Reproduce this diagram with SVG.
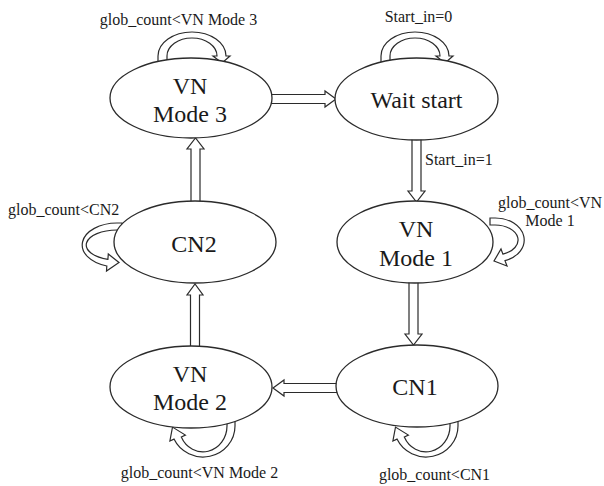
<svg xmlns="http://www.w3.org/2000/svg" width="604" height="486" viewBox="0 0 604 486">
  <style>
    .state { fill: #ffffff; stroke: #2b2b2b; stroke-width: 1.3; }
    .block { fill: #ffffff; stroke: #2b2b2b; stroke-width: 1.2; stroke-linejoin: miter; }
    .name { font-family: "Liberation Serif", "Times New Roman", serif; font-size: 24px; fill: #1a1a1a; text-anchor: middle; }
    .cond { font-family: "Liberation Serif", "Times New Roman", serif; font-size: 16px; fill: #1a1a1a; }
    .mid { text-anchor: middle; }
  </style>
  <rect width="604" height="486" fill="#ffffff"/>

  <!-- transitions: hollow block arrows and self-loops -->
  <g id="connectors">
    <!-- VN Mode 3 -> Wait start -->
    <path class="block" d="M266,94.5 L325,94.5 L325,91 L336,99 L325,107 L325,103.5 L266,103.5 Z"/>
    <!-- Wait start -> VN Mode 1 -->
    <path class="block" d="M412,134 L412,191 L408,191 L416.5,202 L425,191 L421,191 L421,134 Z"/>
    <!-- VN Mode 1 -> CN1 -->
    <path class="block" d="M409,278 L409,334 L405,334 L413.5,345 L422,334 L418,334 L418,278 Z"/>
    <!-- CN1 -> VN Mode 2 -->
    <path class="block" d="M342,383.5 L284,383.5 L284,380 L273,388 L284,396 L284,392.5 L342,392.5 Z"/>
    <!-- VN Mode 2 -> CN2 -->
    <path class="block" d="M190.5,352 L190.5,295 L187,295 L195,284 L203,295 L199.5,295 L199.5,352 Z"/>
    <!-- CN2 -> VN Mode 3 -->
    <path class="block" d="M191,208 L191,149 L187,149 L195.5,138 L204,149 L200,149 L200,208 Z"/>

    <!-- self-loop on VN Mode 3 -->
    <path class="block" d="M158,64 L158,56 A34,24 0 0 1 226,56 L230,56 L222,63 L213,56 L217,56 A25,18 0 0 0 167,56 L167,64 Z"/>
    <!-- self-loop on Wait start -->
    <path class="block" d="M381,64 L381,56 A34,24 0 0 1 449,56 L453,56 L445,63 L436,56 L440,56 A25,18 0 0 0 390,56 L390,64 Z"/>
    <!-- self-loop on VN Mode 1 -->
    <path class="block" d="M490,218 L495,218 A29,22 0 0 1 505,260.7 L507,266 L494,261 L501,249 L502.9,254.1 A23,15 0 0 0 495,225 L490,225 Z"/>
    <!-- self-loop on CN2 -->
    <path class="block" d="M122,223 L117,223 A35,22 0 0 0 106.8,266 L106.5,271 L119,262.5 L108.3,254 L107.9,259.3 A31,15 0 0 1 117,230 L122,230 Z"/>
    <!-- self-loop on VN Mode 2 -->
    <path class="block" d="M235,420 L235,426 A32,31 0 0 1 174,439.1 L169.9,441 L172.5,427.1 L185.4,435.1 L181.3,437 A24,26 0 0 0 227,426 L227,420 Z"/>
    <!-- self-loop on CN1 -->
    <path class="block" d="M458,420 L458,426 A32,31 0 0 1 397,439.1 L392.9,441 L395.5,427.1 L408.4,435.1 L404.3,437 A24,26 0 0 0 450,426 L450,420 Z"/>
  </g>

  <g id="vn-mode-3">
    <ellipse class="state" cx="191" cy="98" rx="81" ry="40"/>
    <text class="name" x="190" y="94">VN</text>
    <text class="name" x="190" y="122">Mode 3</text>
  </g>
  <g id="wait-start">
    <ellipse class="state" cx="416.5" cy="99" rx="81.5" ry="41"/>
    <text class="name" x="416.5" y="108">Wait start</text>
  </g>
  <g id="vn-mode-1">
    <ellipse class="state" cx="415" cy="242" rx="78" ry="41"/>
    <text class="name" x="416" y="237">VN</text>
    <text class="name" x="416" y="266">Mode 1</text>
  </g>
  <g id="cn2">
    <ellipse class="state" cx="195" cy="242" rx="81" ry="41"/>
    <text class="name" x="194" y="252">CN2</text>
  </g>
  <g id="vn-mode-2">
    <ellipse class="state" cx="191" cy="387" rx="81" ry="41"/>
    <text class="name" x="190" y="382">VN</text>
    <text class="name" x="190" y="410">Mode 2</text>
  </g>
  <g id="cn1">
    <ellipse class="state" cx="417" cy="386" rx="81" ry="41"/>
    <text class="name" x="415" y="395">CN1</text>
  </g>

  <!-- transition conditions -->
  <g id="labels">
    <text class="cond mid" x="178.5" y="25">glob_count&lt;VN Mode 3</text>
    <text class="cond mid" x="418.5" y="22">Start_in=0</text>
    <text class="cond" x="425" y="165">Start_in=1</text>
    <text class="cond" x="498" y="208">glob_count&lt;VN</text>
    <text class="cond mid" x="550" y="226">Mode 1</text>
    <text class="cond" x="8" y="215">glob_count&lt;CN2</text>
    <text class="cond mid" x="199.5" y="478">glob_count&lt;VN Mode 2</text>
    <text class="cond mid" x="434.5" y="480">glob_count&lt;CN1</text>
  </g>
</svg>
